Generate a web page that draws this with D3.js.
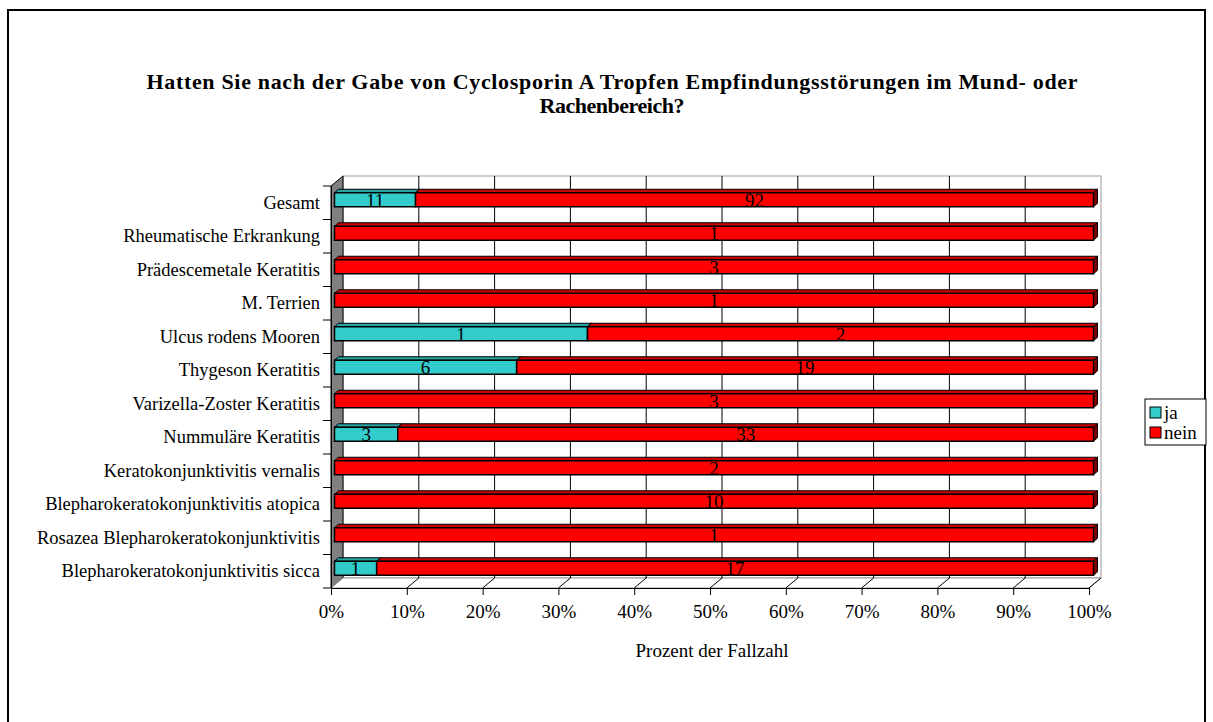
<!DOCTYPE html>
<html><head><meta charset="utf-8">
<script src="https://cdn.jsdelivr.net/npm/d3@7"></script>
<style>body{margin:0;background:#fff}svg{display:block}text{font-family:"Liberation Serif","Times New Roman",serif}</style>
</head><body>
<svg id="c" width="1213" height="722"></svg>
<script>
const categories = ["Gesamt","Rheumatische Erkrankung","Prädescemetale Keratitis","M. Terrien","Ulcus rodens Mooren","Thygeson Keratitis","Varizella-Zoster Keratitis","Nummuläre Keratitis","Keratokonjunktivitis vernalis","Blepharokeratokonjunktivitis atopica","Rosazea Blepharokeratokonjunktivitis","Blepharokeratokonjunktivitis sicca"];
const ja   = [11,0,0,0,1,6,0,3,0,0,0,1];
const nein = [92,1,3,1,2,19,3,33,2,10,1,17];
const seriesNames = ["ja","nein"];
const xTicks = [0,10,20,30,40,50,60,70,80,90,100];
const titleLines = ["Hatten Sie nach der Gabe von Cyclosporin A Tropfen Empfindungsstörungen im Mund- oder","Rachenbereich?"];
const xTitle = "Prozent der Fallzahl";

const colors = {ja:{front:"#33CCCC",top:"#29A3A3",side:"#1F7A7A"}, nein:{front:"#FF0000",top:"#CC0000",side:"#800000"}};
const svg = d3.select("#c");

// outer frame
svg.append("rect").attr("x",8).attr("y",10).attr("width",1197).attr("height",715).attr("fill","none").attr("stroke","#000").attr("stroke-width",2);

// title
const titleW = [931,145];
svg.append("g").selectAll("text").data(titleLines).join("text")
  .attr("x",612).attr("y",(d,i)=>89+i*24).attr("text-anchor","middle")
  .attr("font-size",22).attr("font-weight","bold")
  .attr("textLength",(d,i)=>titleW[i]).attr("lengthAdjust","spacing").text(d=>d);

const X0=331, X1=1089, Y0=186, Y1=588, DX=12, DY=-10;
const x = d3.scaleLinear().domain([0,100]).range([X0,X1]);
const y = d3.scaleBand().domain(categories).range([Y0,Y1]);

// back wall
svg.append("rect").attr("x",X0+DX).attr("y",Y0+DY).attr("width",X1-X0).attr("height",Y1-Y0).attr("fill","#fff").attr("stroke","#999");
// side wall
svg.append("path").attr("d",`M${X0},${Y0}L${X0+DX},${Y0+DY}L${X0+DX},${Y1+DY}L${X0},${Y1}Z`).attr("fill","#808080").attr("stroke","#000").attr("stroke-width",1);
// floor
svg.append("path").attr("d",`M${X0},${Y1}L${X0+DX},${Y1+DY}L${X1+DX},${Y1+DY}L${X1},${Y1}Z`).attr("fill","#fff").attr("stroke","#999");
// gridlines on back wall
const g = svg.append("g");
g.selectAll("line.grid").data(xTicks.slice(1,-1)).join("line").attr("class","grid")
  .attr("x1",d=>x(d)+DX).attr("x2",d=>x(d)+DX).attr("y1",Y0+DY).attr("y2",Y1+DY).attr("stroke","#000").attr("stroke-width",1);
g.selectAll("line.fl").data(xTicks.slice(1)).join("line").attr("class","fl")
  .attr("x1",d=>x(d)).attr("x2",d=>x(d)+DX).attr("y1",Y1).attr("y2",Y1+DY).attr("stroke","#000");

// x axis
const xAxis = svg.append("g").attr("transform",`translate(0,${Y1})`)
  .call(d3.axisBottom(x).tickValues(xTicks).tickFormat(d=>d+"%").tickSizeInner(7).tickSizeOuter(0));
xAxis.select(".domain").attr("stroke","#000");
xAxis.selectAll("text").attr("font-size",19).attr("font-family","Liberation Serif").attr("y",30).attr("dy",0).attr("fill","#000");
svg.append("text").attr("x",712).attr("y",657).attr("text-anchor","middle").attr("font-size",19).text(xTitle);

// y axis
const yAxis = svg.append("g").attr("transform",`translate(${X0},0)`)
  .call(d3.axisLeft(y).tickSize(0).tickPadding(11));
yAxis.select(".domain").attr("stroke","#000");
yAxis.selectAll("text").attr("font-size",18.5).attr("font-family","Liberation Serif").attr("fill","#000");
svg.append("g").selectAll("line").data(d3.range(categories.length+1)).join("line")
  .attr("x1",X0-8).attr("x2",X0).attr("y1",i=>Y0+i*y.step()).attr("y2",i=>Y0+i*y.step()).attr("stroke","#000");

// bars
const bx = d3.scaleLinear().domain([0,100]).range([X0+3.5,X1+4.5]);
const bh = 14, bdx = 4, bdy = -3.5;
const rows = categories.map((c,i)=>{const t=ja[i]+nein[i];return {c, segs:[{s:"ja",v:ja[i],p0:0,p1:ja[i]/t*100},{s:"nein",v:nein[i],p0:ja[i]/t*100,p1:100}]};});
const bars = svg.append("g");
rows.forEach(r=>{
  const yc = y(r.c)+y.bandwidth()/2-3;
  const yt = yc-bh/2;
  r.segs.filter(s=>s.v>0).forEach(s=>{
    const xa=bx(s.p0), xb=bx(s.p1), col=colors[s.s];
    bars.append("path").attr("d",`M${xa},${yt}L${xa+bdx},${yt+bdy}L${xb+bdx},${yt+bdy}L${xb},${yt}Z`).attr("fill",col.top).attr("stroke","#000").attr("stroke-width",1);
    bars.append("path").attr("d",`M${xb},${yt}L${xb+bdx},${yt+bdy}L${xb+bdx},${yt+bh+bdy}L${xb},${yt+bh}Z`).attr("fill",col.side).attr("stroke","#000").attr("stroke-width",1);
    bars.append("rect").attr("x",xa).attr("y",yt).attr("width",xb-xa).attr("height",bh).attr("fill",col.front).attr("stroke","#000").attr("stroke-width",1.5);
  });
  r.segs.filter(s=>s.v>0).forEach(s=>{
    bars.append("text").attr("x",(bx(s.p0)+bx(s.p1))/2).attr("y",yc).attr("dy","0.36em").attr("text-anchor","middle").attr("font-size",19).attr("fill","#000").text(s.v);
  });
});

// legend
const lg = svg.append("g").attr("transform","translate(1145,399)");
lg.append("rect").attr("width",61).attr("height",46).attr("fill","#fff").attr("stroke","#000");
seriesNames.forEach((n,i)=>{
  lg.append("rect").attr("x",5).attr("y",8+i*20).attr("width",11).attr("height",11).attr("fill",colors[n].front).attr("stroke","#000");
  lg.append("text").attr("x",19).attr("y",13.5+i*20).attr("dy","0.36em").attr("font-size",19).text(n);
});
</script>
</body></html>
